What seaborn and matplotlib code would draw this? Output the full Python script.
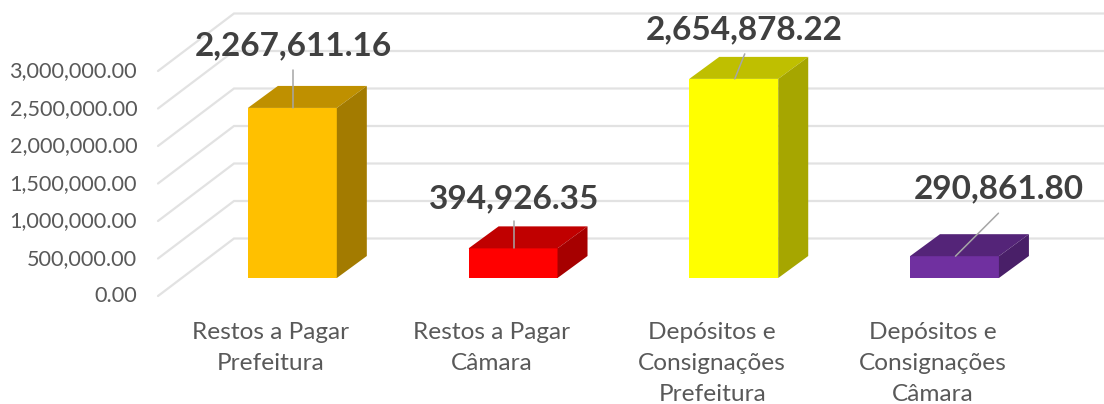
import numpy as np
import pandas as pd
import seaborn as sns
from matplotlib import pyplot as plt
from matplotlib.patches import Polygon
from matplotlib.transforms import Affine2D

categories = ["Restos a Pagar\nPrefeitura", "Restos a Pagar\nCâmara",
              "Depósitos e\nConsignações\nPrefeitura", "Depósitos e\nConsignações\nCâmara"]
values = [2267611.16, 394926.35, 2654878.22, 290861.80]
value_labels = ["2,267,611.16", "394,926.35", "2,654,878.22", "290,861.80"]
front_colors = ["#FFC000", "#FF0000", "#FFFF00", "#7030A0"]
top_colors = ["#BF9000", "#C00000", "#BFBF00", "#542478"]
side_colors = ["#A37B00", "#A60000", "#A6A600", "#491F68"]
y_ticks = [0, 500000, 1000000, 1500000, 2000000, 2500000, 3000000]

# pixel offsets of the 3d look
WALL = np.array([76, 57.5])
BAR_FRONT = np.array([24, 18])
BAR_DEPTH = np.array([30, 22])
# label centre and leader ends, relative to the bar top centre (pixels)
label_offsets = [(1, 62), (1, 50), (10, 49), (44, 67)]
leader_starts = [(1, 0), (1, 0), (1, 0), (1, 0)]
leader_offsets = [(1, 38), (1, 27), (11, 25), (44, 43)]

GRID = "#E2E2E2"

sns.set_theme(style="white")
plt.rcParams["font.family"] = ["Lato", "DejaVu Sans"]

fig = plt.figure(figsize=(11.04, 4.04), dpi=100)
ax = fig.add_axes([158 / 1104, (404 - 296) / 404, 4 * 220.7 / 1104, 225 / 404])

df = pd.DataFrame({"categoria": categories, "valor": values})
sns.barplot(data=df, x="categoria", y="valor", hue="categoria", palette=front_colors,
            width=0.403, saturation=1, legend=False, linewidth=0, ax=ax, zorder=3)

ax.set_xlim(-0.5, 3.5)
ax.set_ylim(0, 3000000)
ax.set_xlabel("")
ax.set_ylabel("")
ax.set_yticks(y_ticks)
ax.set_yticklabels([f"{t:,.2f}" for t in y_ticks])
ax.tick_params(axis="y", length=0, pad=15, labelsize=15.6, labelcolor="#595959")
ax.tick_params(axis="x", length=0, pad=18.5, labelsize=17.6, labelcolor="#595959")
for label in ax.get_xticklabels():
    label.set_linespacing(1.6)
    label.set_transform(label.get_transform() + Affine2D().translate(2.5, 0))
for label in ax.get_yticklabels():
    label.set_transform(label.get_transform() + Affine2D().translate(0, 1.5))
sns.despine(ax=ax, left=True, bottom=True)

fig.canvas.draw()
pix = Affine2D()  # everything 3d is placed in figure pixels, from the data scale


def to_pixels(x, y):
    return ax.transData.transform((x, y))


# floor/wall gridlines
for t in y_ticks:
    start = to_pixels(-0.5, t)
    corner = start + WALL
    end = to_pixels(3.5, t) + WALL
    pts = np.array([start, corner, end])
    ax.plot(pts[:, 0], pts[:, 1], color=GRID, lw=1.6, transform=pix, clip_on=False,
            zorder=1, solid_joinstyle="miter")

# bars: the seaborn front faces are moved into the bar plane, top and side added
bars = sorted(ax.patches, key=lambda p: p.get_x())
for i, bar in enumerate(bars):
    x0 = bar.get_x()
    x1 = x0 + bar.get_width()
    bl = to_pixels(x0, 0) + BAR_FRONT
    br = to_pixels(x1, 0) + BAR_FRONT
    tl = to_pixels(x0, bar.get_height()) + BAR_FRONT
    tr = to_pixels(x1, bar.get_height()) + BAR_FRONT
    bar.set_transform(ax.transData + Affine2D().translate(*BAR_FRONT))
    bar.set_clip_on(False)
    ax.add_patch(Polygon([tl, tr, tr + BAR_DEPTH, tl + BAR_DEPTH], closed=True, fc=top_colors[i],
                         ec="none", transform=pix, clip_on=False, zorder=3))
    ax.add_patch(Polygon([br, br + BAR_DEPTH, tr + BAR_DEPTH, tr], closed=True, fc=side_colors[i],
                         ec="none", transform=pix, clip_on=False, zorder=3))

    # leader line and value label
    top = (tl + tr) / 2
    start = top + leader_starts[i]
    leader = top + leader_offsets[i]
    ax.plot([start[0], leader[0]], [start[1], leader[1]], color="#A6A6A6", lw=1.1, transform=pix,
            clip_on=False, zorder=4)
    pos = top + label_offsets[i]
    ax.text(pos[0], pos[1], value_labels[i], transform=pix, ha="center", va="center",
            fontsize=24, fontweight="bold", color="#404040", zorder=5, clip_on=False)

fig.savefig("out.png", dpi=100)
